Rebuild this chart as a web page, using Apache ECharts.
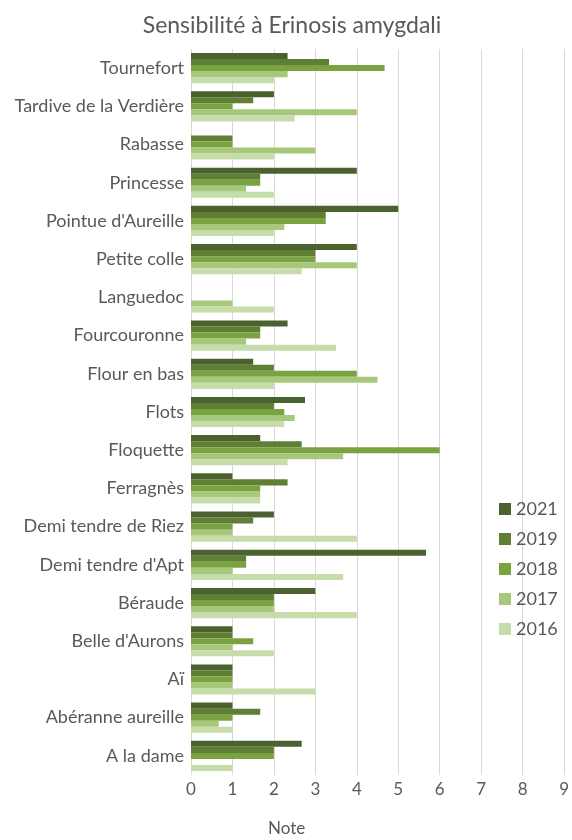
<!DOCTYPE html>
<html>
<head>
<meta charset="utf-8">
<script src="https://cdn.jsdelivr.net/npm/echarts@6/dist/echarts.min.js"></script>
<style>
  html, body { margin: 0; padding: 0; background: #fff; }
  #main { width: 572px; height: 840px; }
</style>
</head>
<body>
<div id="main"></div>
<script>
// variétés, de haut en bas
var categories = ['Tournefort', 'Tardive de la Verdière', 'Rabasse', 'Princesse', "Pointue d'Aureille",
  'Petite colle', 'Languedoc', 'Fourcouronne', 'Flour en bas', 'Flots', 'Floquette', 'Ferragnès',
  'Demi tendre de Riez', "Demi tendre d'Apt", 'Béraude', "Belle d'Aurons", 'Aï', 'Abéranne aureille', 'A la dame'];

var years = ['2021', '2019', '2018', '2017', '2016'];

var v2021 = [2.33, 2, 0, 4, 5, 4, 0, 2.33, 1.5, 2.75, 1.67, 1, 2, 5.67, 3, 1, 1, 1, 2.67];
var v2019 = [3.33, 1.5, 1, 1.67, 3.25, 3, 0, 1.67, 2, 2, 2.67, 2.33, 1.5, 1.33, 2, 1, 1, 1.67, 2];
var v2018 = [4.67, 1, 1, 1.67, 3.25, 3, 0, 1.67, 4, 2.25, 6, 1.67, 1, 1.33, 2, 1.5, 1, 1, 2];
var v2017 = [2.33, 4, 3, 1.33, 2.25, 4, 1, 1.33, 4.5, 2.5, 3.67, 1.67, 1, 1, 2, 1, 1, 0.67, 0];
var v2016 = [2, 2.5, 2, 2, 2, 2.67, 2, 3.5, 2, 2.25, 2.33, 1.67, 4, 3.67, 4, 2, 3, 1, 1];

var xTicks = [0, 1, 2, 3, 4, 5, 6, 7, 8, 9];

var values = [v2021, v2019, v2018, v2017, v2016];
var colors = ['#4b6230', '#5f7f35', '#7ba241', '#a7c87b', '#c6dcaa'];

var myChart = echarts.init(document.getElementById('main'));
var fontFam = 'Lato, "Open Sans", sans-serif';

var series = [];
for (var i = 0; i < years.length; i++) {
    series.push({
        name: years[i],
        type: 'bar',
        data: values[i],
        barGap: '0%',
        barCategoryGap: '21%',
        itemStyle: { color: colors[i] },
        animation: false
    });
}

var option = {
    animation: false,
    color: colors,
    textStyle: { fontFamily: fontFam },
    title: {
        text: 'Sensibilité à Erinosis amygdali',
        left: 287,
        textAlign: 'center',
        top: 9,
        textStyle: { fontSize: 23, fontWeight: 'normal', color: '#595959', fontFamily: fontFam }
    },
    legend: {
        orient: 'vertical',
        left: 494,
        top: 494,
        itemWidth: 12,
        itemHeight: 12,
        itemGap: 10,
        icon: 'rect',
        textStyle: { fontSize: 18, color: '#595959', fontFamily: fontFam, lineHeight: 20 },
        data: years
    },
    grid: { left: 191, right: 6, top: 49, bottom: 65, containLabel: false },
    xAxis: {
        type: 'value',
        min: 0,
        max: 9,
        interval: 1,
        axisLine: { show: false },
        axisTick: { show: false },
        axisLabel: {
            color: '#595959', fontSize: 17, margin: 6, fontFamily: fontFam,
            formatter: function (v) { return xTicks.indexOf(v) >= 0 ? String(v) : ''; }
        },
        splitLine: { show: true, lineStyle: { color: '#d9d9d9', width: 1 } }
    },
    yAxis: {
        type: 'category',
        data: categories,
        inverse: true,
        axisLine: { show: false },
        axisTick: { show: false },
        axisLabel: { color: '#595959', fontSize: 18, margin: 7, fontFamily: fontFam }
    },
    graphic: [{
        type: 'text',
        left: 268,
        top: 820,
        style: { text: 'Note', fill: '#595959', font: '17px ' + fontFam }
    }],
    series: series
};

myChart.setOption(option);
</script>
</body>
</html>
